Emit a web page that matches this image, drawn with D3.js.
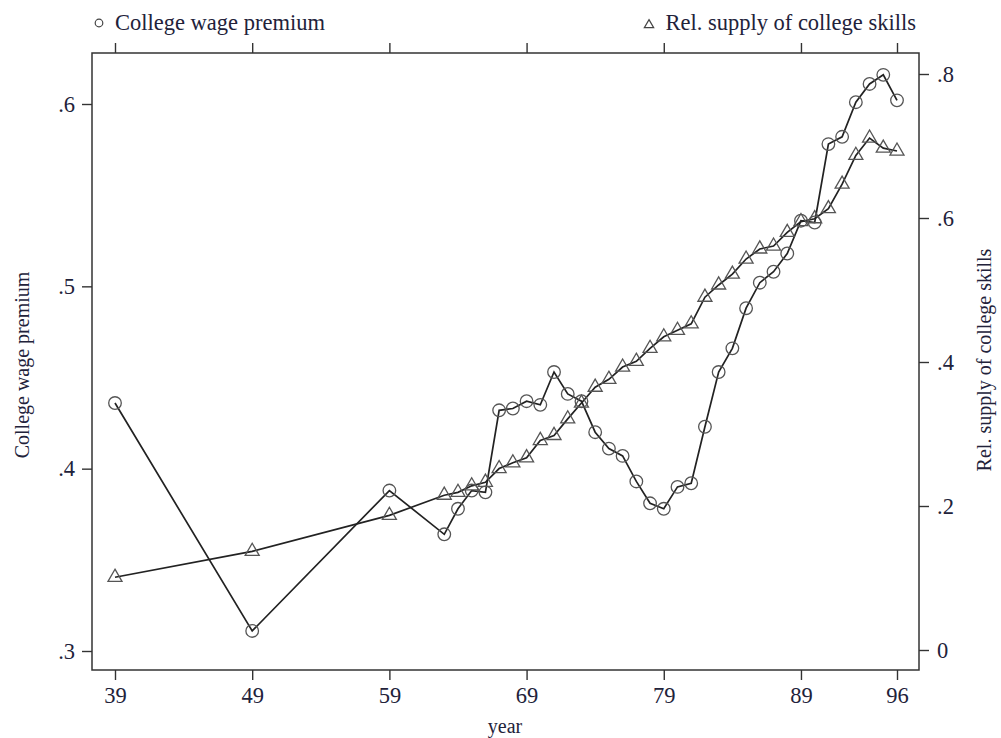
<!DOCTYPE html>
<html>
<head>
<meta charset="utf-8">
<script src="https://cdn.jsdelivr.net/npm/d3@7"></script>
<style>
  body { margin: 0; background: #fff; }
  text { font-family: "Liberation Serif", "Times New Roman", serif; fill: #22223a; }
</style>
</head>
<body>
<div id="chart"></div>
<script>
// Data
var years = [39, 49, 59, 63, 64, 65, 66, 67, 68, 69, 70, 71, 72, 73, 74, 75, 76, 77, 78, 79,
  80, 81, 82, 83, 84, 85, 86, 87, 88, 89, 90, 91, 92, 93, 94, 95, 96];

var wagePremium = [0.436, 0.311, 0.388, 0.364, 0.378, 0.388, 0.387, 0.432, 0.433, 0.437,
  0.435, 0.453, 0.441, 0.437, 0.420, 0.411, 0.407, 0.393, 0.381, 0.378,
  0.390, 0.392, 0.423, 0.453, 0.466, 0.488, 0.502, 0.508, 0.518, 0.536,
  0.535, 0.578, 0.582, 0.601, 0.611, 0.616, 0.602];

var relSupply = [0.101, 0.137, 0.187, 0.215, 0.219, 0.228, 0.233, 0.252, 0.260, 0.267,
  0.291, 0.298, 0.321, 0.343, 0.365, 0.376, 0.393, 0.401, 0.419, 0.435,
  0.444, 0.453, 0.490, 0.507, 0.522, 0.543, 0.557, 0.561, 0.580, 0.595,
  0.599, 0.613, 0.647, 0.687, 0.711, 0.697, 0.693];

var xTicks = [39, 49, 59, 69, 79, 89, 96];
var leftTicks = [0.3, 0.4, 0.5, 0.6];
var rightTicks = [0, 0.2, 0.4, 0.6, 0.8];

// SVG area
var svgWidth = 1001;
var svgHeight = 738;

// plot frame
var frame = { left: 92, right: 919, top: 53, bottom: 670 };

var svg = d3.select("#chart")
  .append("svg")
  .attr("width", svgWidth)
  .attr("height", svgHeight);

// scales
var xScale = d3.scaleLinear().domain([39, 96]).range([115, 897]);
var yLeft = d3.scaleLinear().domain([0.3, 0.6]).range([651, 104]);
var yRight = d3.scaleLinear().domain([0, 0.8]).range([650, 74]);

function fmtDec(v) {
  if (v === 0) return "0";
  return d3.format(".1f")(v).replace(/^0/, "");
}

// axes
var bottomAxis = d3.axisBottom(xScale).tickValues(xTicks).tickSize(10).tickPadding(7).tickSizeOuter(0);
var topAxis = d3.axisTop(xScale).tickValues(xTicks).tickSize(10).tickFormat("").tickSizeOuter(0);
var leftAxis = d3.axisLeft(yLeft).tickValues(leftTicks).tickSize(10).tickPadding(7).tickFormat(fmtDec);
var rightAxis = d3.axisRight(yRight).tickValues(rightTicks).tickSize(10).tickPadding(8).tickFormat(fmtDec);

function styleAxis(g) {
  g.select(".domain").remove();
  g.selectAll(".tick line").attr("stroke", "#333").attr("stroke-width", 1.4);
  g.selectAll(".tick text").attr("font-size", "22.5px").attr("fill", "#22223a")
    .style("font-family", "'Liberation Serif', serif");
}

svg.append("g").attr("transform", `translate(0, ${frame.bottom})`).call(bottomAxis).call(styleAxis);
svg.append("g").attr("transform", `translate(0, ${frame.top})`).call(topAxis).call(styleAxis);
svg.append("g").attr("transform", `translate(${frame.left}, 0)`).call(leftAxis).call(styleAxis);
svg.append("g").attr("transform", `translate(${frame.right}, 0)`).call(rightAxis).call(styleAxis);

// frame box
svg.append("rect")
  .attr("x", frame.left)
  .attr("y", frame.top)
  .attr("width", frame.right - frame.left)
  .attr("height", frame.bottom - frame.top)
  .attr("fill", "none")
  .attr("stroke", "#333")
  .attr("stroke-width", 1.5);

// lines
var wageLine = d3.line()
  .x((d, i) => xScale(years[i]))
  .y(d => yLeft(d));

var supplyLine = d3.line()
  .x((d, i) => xScale(years[i]))
  .y(d => yRight(d));

svg.append("path")
  .datum(wagePremium)
  .attr("d", wageLine)
  .attr("fill", "none")
  .attr("stroke", "#222")
  .attr("stroke-width", 1.7);

svg.append("path")
  .datum(relSupply)
  .attr("d", supplyLine)
  .attr("fill", "none")
  .attr("stroke", "#222")
  .attr("stroke-width", 1.7);

// markers
svg.selectAll(".wage-pt")
  .data(wagePremium)
  .enter()
  .append("circle")
  .attr("class", "wage-pt")
  .attr("cx", (d, i) => xScale(years[i]))
  .attr("cy", d => yLeft(d))
  .attr("r", 6.3)
  .attr("fill", "none")
  .attr("stroke", "#555")
  .attr("stroke-width", 1.3);

var tri = d3.symbol().type(d3.symbolTriangle).size(85);

svg.selectAll(".supply-pt")
  .data(relSupply)
  .enter()
  .append("path")
  .attr("class", "supply-pt")
  .attr("d", tri)
  .attr("transform", (d, i) => `translate(${xScale(years[i])}, ${yRight(d)})`)
  .attr("fill", "none")
  .attr("stroke", "#555")
  .attr("stroke-width", 1.3);

// legend
svg.append("circle")
  .attr("cx", 99).attr("cy", 23).attr("r", 3.8)
  .attr("fill", "none").attr("stroke", "#444").attr("stroke-width", 1.2);

svg.append("text")
  .attr("x", 115).attr("y", 30)
  .attr("font-size", "22.5px")
  .text("College wage premium");

svg.append("path")
  .attr("d", d3.symbol().type(d3.symbolTriangle).size(38))
  .attr("transform", "translate(649, 25)")
  .attr("fill", "none").attr("stroke", "#444").attr("stroke-width", 1.2);

svg.append("text")
  .attr("x", 916).attr("y", 30)
  .attr("text-anchor", "end")
  .attr("font-size", "22.5px")
  .text("Rel. supply of college skills");

// axis titles
svg.append("text")
  .attr("transform", "translate(29, 365) rotate(-90)")
  .attr("text-anchor", "middle")
  .attr("font-size", "20px")
  .text("College wage premium");

svg.append("text")
  .attr("transform", "translate(991, 360) rotate(-90)")
  .attr("text-anchor", "middle")
  .attr("font-size", "20px")
  .text("Rel. supply of college skills");

svg.append("text")
  .attr("x", 505).attr("y", 733)
  .attr("text-anchor", "middle")
  .attr("font-size", "20px")
  .text("year");
</script>
</body>
</html>
